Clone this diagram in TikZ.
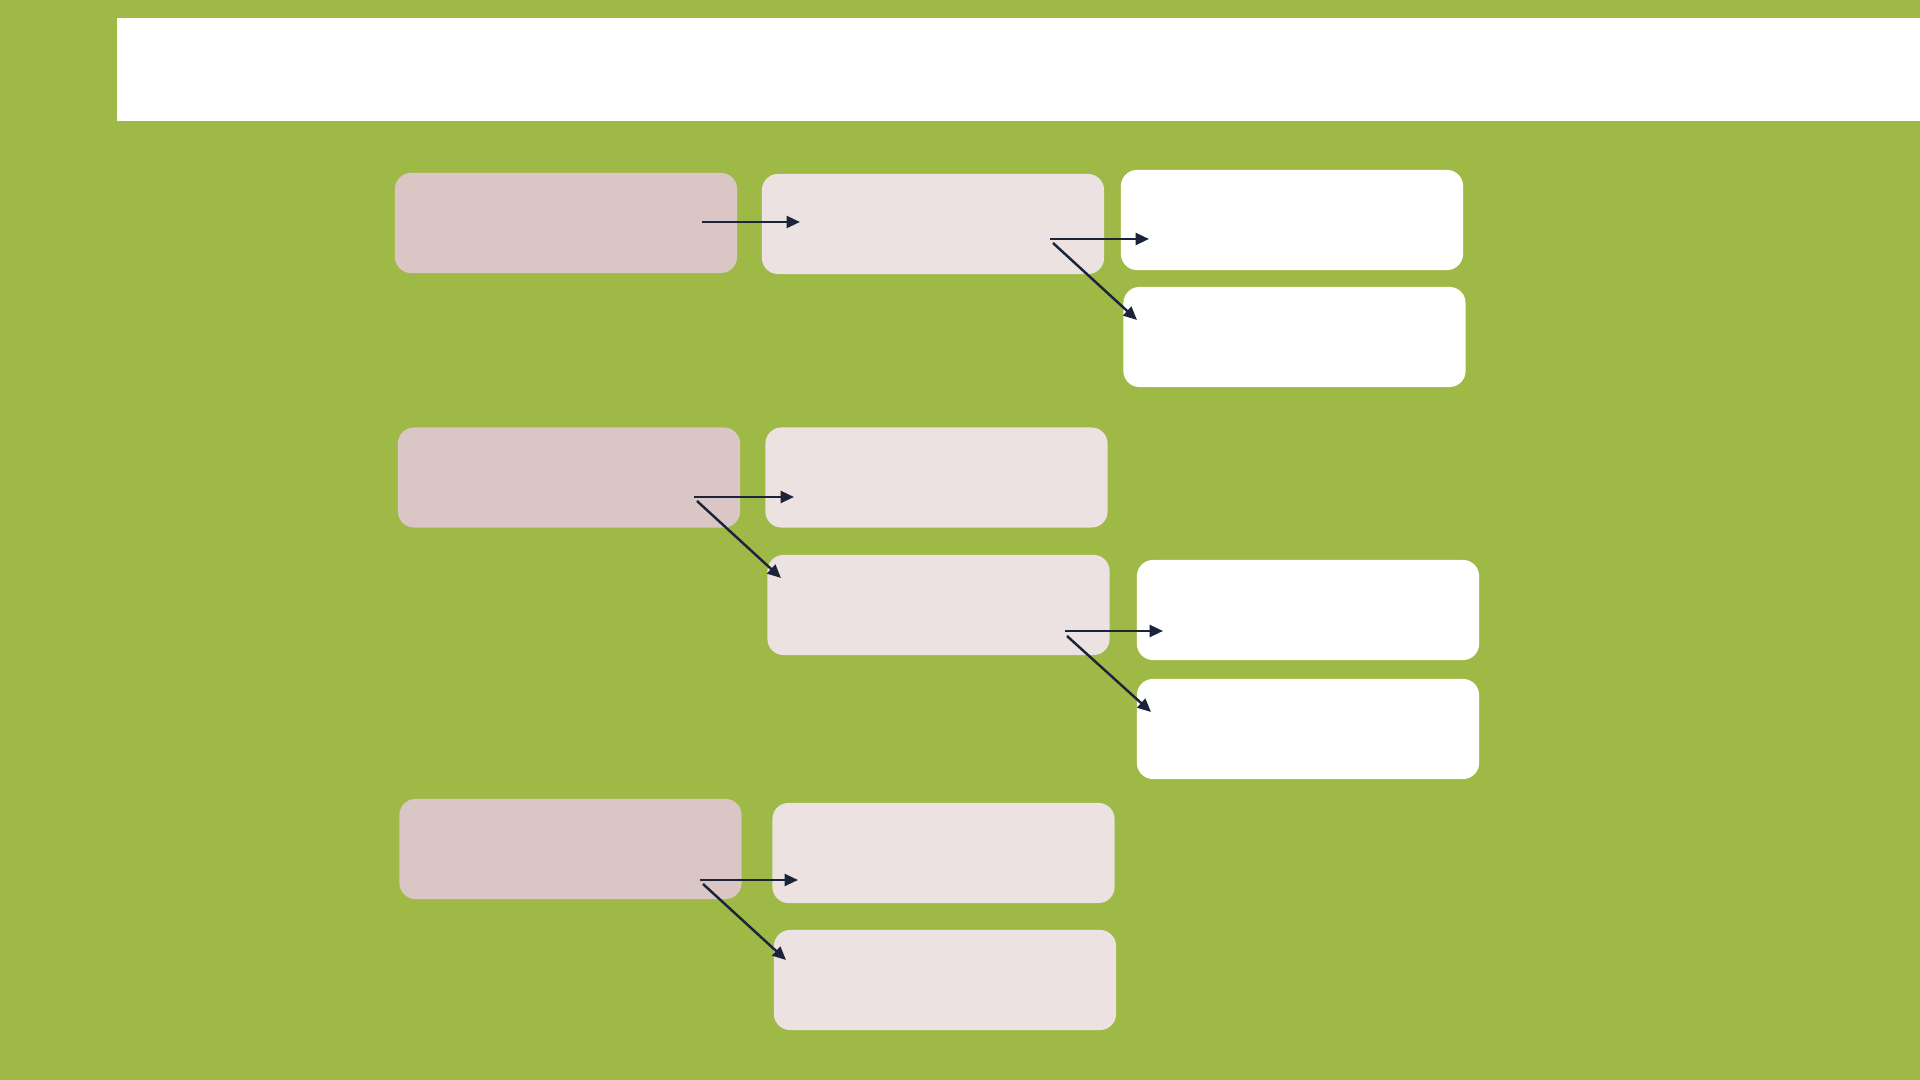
\documentclass[tikz,border=0pt]{standalone}
\usetikzlibrary{arrows.meta}
\definecolor{leaf}{HTML}{9FB946}
\definecolor{rosea}{HTML}{D9C6C5}
\definecolor{roseb}{HTML}{EBE2E1}
\definecolor{ink}{HTML}{1B2439}
\tikzset{
  card/.style={rounded corners=0.16cm,minimum width=3.42cm,minimum height=1cm,inner sep=0pt},
  carda/.style={card,fill=rosea},
  cardb/.style={card,fill=roseb},
  cardc/.style={card,fill=white},
  link/.style={draw=ink,line width=0.7pt,-{Triangle[length=3.8pt,width=3.4pt]}}
}
\begin{document}
\begin{tikzpicture}[x=0.01cm,y=-0.01cm]
\fill[leaf] (0,0) rectangle (1920,1080);
\useasboundingbox (0,0) rectangle (1920,1080);
\fill[white] (117,18) rectangle (1920,121);
\node[carda] (a1) at (566,223) {};
\node[cardb] (b1) at (933,224) {};
\node[cardc] (c1) at (1292,220) {};
\node[cardc] (c2) at (1294.5,337) {};
\node[carda] (a2) at (569,477.5) {};
\node[cardb] (b2) at (936.5,477.5) {};
\node[cardb] (b3) at (938.5,605) {};
\node[cardc] (c3) at (1308,610) {};
\node[cardc] (c4) at (1308,729) {};
\node[carda] (a3) at (570.5,849) {};
\node[cardb] (b4) at (943.5,853) {};
\node[cardb] (b5) at (945,980) {};
\coordinate (a1s) at (702,222);
\coordinate (b1e) at (800,222);
\coordinate (b1s) at (1050,239);
\coordinate (b1t) at (1053,243);
\coordinate (c1e) at (1149,239);
\coordinate (c2e) at (1137,320);
\coordinate (a2s) at (694,497);
\coordinate (a2t) at (697,501);
\coordinate (b2e) at (794,497);
\coordinate (b3e) at (781,578);
\coordinate (b3s) at (1065,631);
\coordinate (b3t) at (1067,636);
\coordinate (c3e) at (1163,631);
\coordinate (c4e) at (1151,712);
\coordinate (a3s) at (700,880);
\coordinate (a3t) at (703,884);
\coordinate (b4e) at (798,880);
\coordinate (b5e) at (786,960);
\draw[link] (a1s) -- (b1e);
\draw[link] (b1s) -- (c1e);
\draw[link] (b1t) -- (c2e);
\draw[link] (a2s) -- (b2e);
\draw[link] (a2t) -- (b3e);
\draw[link] (b3s) -- (c3e);
\draw[link] (b3t) -- (c4e);
\draw[link] (a3s) -- (b4e);
\draw[link] (a3t) -- (b5e);
\end{tikzpicture}
\end{document}
